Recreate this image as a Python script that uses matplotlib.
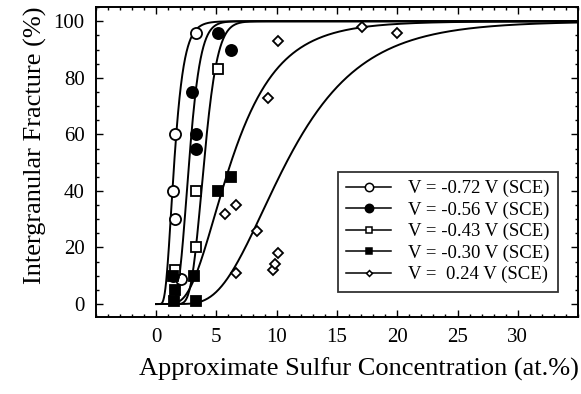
import math
import numpy as np
import matplotlib
matplotlib.use("Agg")
import matplotlib.pyplot as plt
from matplotlib.ticker import MultipleLocator

plt.rcParams['font.family'] = ['Liberation Serif', 'DejaVu Serif']

x_m072 = [1.4, 1.6, 1.6, 3.3, 2.1]
y_m072 = [40, 60, 30, 96, 9]
x_m056 = [3.0, 3.3, 3.3, 5.1, 6.2, 1.4]
y_m056 = [75, 60, 55, 96, 90, 10]
x_m043 = [1.6, 3.3, 3.3, 5.1]
y_m043 = [12, 20, 40, 83]
x_m030 = [1.4, 1.6, 1.5, 3.1, 3.3, 5.1, 6.2]
y_m030 = [10, 5, 1, 10, 1, 40, 45]
x_p024 = [5.7, 6.6, 6.6, 8.4, 9.3, 9.7, 9.9, 10.1, 10.1, 17.1, 20.0]
y_p024 = [32, 35, 11, 26, 73, 12, 14, 18, 93, 98, 96]

labels = ['V = -0.72 V (SCE)', 'V = -0.56 V (SCE)', 'V = -0.43 V (SCE)',
          'V = -0.30 V (SCE)', 'V =  0.24 V (SCE)']

# fitted curves (log-normal cumulative), median and width
fit_median = [1.5, 2.73, 3.97, 6.2, 10.8]
fit_sigma = [0.42, 0.27, 0.22, 0.5, 0.45]

series = [(x_m072, y_m072, 'o', 'white', 8),
          (x_m056, y_m056, 'o', 'black', 8),
          (x_m043, y_m043, 's', 'white', 7),
          (x_m030, y_m030, 's', 'black', 7),
          (x_p024, y_p024, 'D', 'white', 5)]

fig = plt.figure(figsize=(5.81, 3.94), dpi=100)
ax = fig.add_axes([0.165, 0.196, 0.83, 0.786])

xs = np.linspace(0.01, 35, 600)
for med, sig in zip(fit_median, fit_sigma):
    ys = [100 * 0.5 * (1 + math.erf((math.log(v) - math.log(med)) / (sig * math.sqrt(2)))) for v in xs]
    ax.plot(xs, ys, color='k', lw=1.4, zorder=2)

handles = []
for (xv, yv, mk, fc, ms), lab in zip(series, labels):
    ax.plot(xv, yv, ls='none', marker=mk, ms=ms, mfc=fc, mec='k', mew=1.3, zorder=3)
    h, = ax.plot([], [], color='k', lw=1.1, marker=mk, ms=ms - 2, mfc=fc, mec='k', mew=1.1, label=lab)
    handles.append(h)

ax.set_xlim(-5, 35)
ax.set_ylim(-4.5, 105)
ax.set_xticks([0, 5, 10, 15, 20, 25, 30])
ax.set_yticks([0, 20, 40, 60, 80, 100])
ax.xaxis.set_minor_locator(MultipleLocator(1))
ax.yaxis.set_minor_locator(MultipleLocator(5))
ax.tick_params(which='both', direction='in', top=True, right=True, width=1)
ax.tick_params(which='major', length=5, labelsize=15, pad=8)
ax.tick_params(which='minor', length=2.5)
for s in ax.spines.values():
    s.set_linewidth(1.4)

ax.set_xlabel('Approximate Sulfur Concentration (at.%)', fontsize=19, labelpad=8)
ax.set_ylabel('Intergranular Fracture (%)', fontsize=19, labelpad=5)
ax.xaxis.label.set_x(0.546)
ax.yaxis.label.set_y(0.553)

leg = ax.legend(handles=handles, loc='upper left', bbox_to_anchor=(338 / 581, 1 - 171.7 / 394),
                bbox_transform=fig.transFigure, fontsize=13.5, frameon=True, fancybox=False,
                edgecolor='k', handlelength=2.4, handletextpad=0.9, labelspacing=0.22,
                borderpad=0.45, borderaxespad=0)
leg.get_frame().set_linewidth(1.3)

plt.savefig('out.png', dpi=100)
